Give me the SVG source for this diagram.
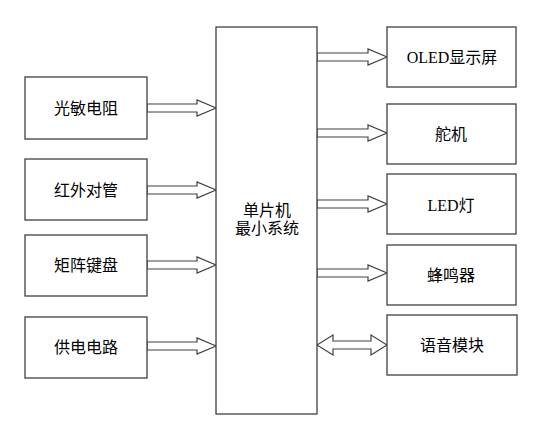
<svg xmlns="http://www.w3.org/2000/svg" width="545" height="422" viewBox="0 0 545 422">
<style>
.box{fill:#fff;stroke:#404040;stroke-width:1.3}
.arr{fill:#fff;stroke:#404040;stroke-width:1.2;stroke-linejoin:miter}
text{font-family:"Liberation Serif","Noto Sans CJK SC",serif;font-size:16px;fill:#000;text-anchor:middle}
</style>
<rect width="545" height="422" fill="#fff"/>
<g id="connectors">
<path class="arr" d="M147,104 H197 V100 L216,108 L197,116 V112 H147 Z"/>
<path class="arr" d="M147,186 H197 V182 L216,190 L197,198 V194 H147 Z"/>
<path class="arr" d="M147,261 H197 V257 L216,265 L197,273 V269 H147 Z"/>
<path class="arr" d="M147,342 H197 V338 L216,346 L197,354 V350 H147 Z"/>
<path class="arr" d="M317,53 H368 V49 L387,57 L368,65 V61 H317 Z"/>
<path class="arr" d="M317,129 H368 V125 L387,133 L368,141 V137 H317 Z"/>
<path class="arr" d="M317,200 H368 V196 L387,204 L368,212 V208 H317 Z"/>
<path class="arr" d="M317,269 H368 V265 L387,273 L368,281 V277 H317 Z"/>
<path class="arr" d="M317,345 L333,335 V341 H371 V335 L387,345 L371,355 V349 H333 V355 Z"/>
</g>
<g id="mcu">
<rect class="box" x="216" y="27" width="101" height="387"/>
<text x="267" y="216">单片机</text>
<text x="267" y="234">最小系统</text>
</g>
<g id="ldr">
<rect class="box" x="25" y="77" width="122" height="62"/>
<text x="86" y="114">光敏电阻</text>
</g>
<g id="ir">
<rect class="box" x="25" y="159" width="122" height="61"/>
<text x="86" y="196">红外对管</text>
</g>
<g id="keypad">
<rect class="box" x="25" y="235" width="122" height="61"/>
<text x="86" y="271">矩阵键盘</text>
</g>
<g id="power">
<rect class="box" x="25" y="317" width="122" height="61"/>
<text x="86" y="353">供电电路</text>
</g>
<g id="oled">
<rect class="box" x="387" y="27" width="129" height="60"/>
<text x="452" y="63">OLED显示屏</text>
</g>
<g id="servo">
<rect class="box" x="387" y="104" width="129" height="60"/>
<text x="451" y="140">舵机</text>
</g>
<g id="led">
<rect class="box" x="387" y="174" width="129" height="60"/>
<text x="451" y="211">LED灯</text>
</g>
<g id="buzzer">
<rect class="box" x="387" y="245" width="129" height="60"/>
<text x="451" y="281">蜂鸣器</text>
</g>
<g id="voice">
<rect class="box" x="387" y="315" width="130" height="60"/>
<text x="452" y="351">语音模块</text>
</g>
</svg>
